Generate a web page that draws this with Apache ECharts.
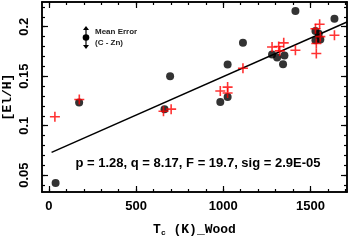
<!DOCTYPE html>
<html><head><meta charset="utf-8">
<script src="https://cdn.jsdelivr.net/npm/echarts@6/dist/echarts.min.js"></script>
<style>html,body{margin:0;padding:0;background:#fff}#c{width:350px;height:240px}</style>
</head><body><div id="c"></div>
<script>
// Data
const dotX = [38, 173, 663, 695, 983, 1025, 1025, 1113, 1280, 1309, 1351, 1343, 1414, 1529, 1548, 1529, 1557, 1638];
const dotY = [0.042, 0.1234, 0.1167, 0.150, 0.124, 0.129, 0.1618, 0.1837, 0.172, 0.169, 0.171, 0.162, 0.216, 0.1958, 0.193, 0.1864, 0.187, 0.208];
const crossX = [34, 174, 657, 701, 983, 1025, 1025, 1113, 1280, 1318, 1347, 1324, 1414, 1529, 1553, 1534, 1534, 1557, 1638];
const crossY = [0.109, 0.1265, 0.1146, 0.1167, 0.135, 0.139, 0.133, 0.158, 0.1796, 0.180, 0.1837, 0.1756, 0.1763, 0.198, 0.2025, 0.183, 0.173, 0.190, 0.1914];
const fitX = [15, 1710];
const fitY = [0.073, 0.2048];
const xTickLabels = [0, 500, 1000, 1500];
const yTickLabels = [0.05, 0.1, 0.15, 0.2];
const fitText = 'p = 1.28, q = 8.17, F = 19.7, sig = 2.9E-05';
const yTitle = '[El/H]';

const xMin = -40, xMax = 1710, yMin = 0.033, yMax = 0.225;
const xMinor = []; for (let v = 0; v <= 1700; v += 100) xMinor.push(v);
const yMinor = []; for (let i = 4; i <= 22; i++) yMinor.push(i / 100);

const lineCol = '#000';
function xAx(pos, major, lab) {
  return {
    type: 'value', position: pos, min: xMin, max: xMax,
    axisLine: { show: true, onZero: false, lineStyle: { color: lineCol, width: 1.5 } },
    axisTick: { show: true, inside: true, length: major ? 6 : 3, customValues: major ? xTickLabels : xMinor, lineStyle: { color: lineCol, width: 1.2 } },
    axisLabel: lab ? { show: true, customValues: xTickLabels, formatter: v => String(v), color: '#000', fontFamily: 'Liberation Sans, Arial', fontWeight: 'bold', fontSize: 13, margin: 8 } : { show: false },
    splitLine: { show: false },
    name: lab ? '{t|T}{s|c}{t| (K)_Wood}' : '',
    nameLocation: 'middle', nameGap: 31,
    nameTextStyle: { rich: {
      t: { fontFamily: 'Liberation Mono, Courier New', fontWeight: 'bold', fontSize: 13, color: '#000' },
      s: { fontFamily: 'Liberation Mono, Courier New', fontWeight: 'bold', fontSize: 8, color: '#000', padding: [6, 0, 0, 0] }
    } }
  };
}
function yAx(pos, major, lab) {
  return {
    type: 'value', position: pos, min: yMin, max: yMax,
    axisLine: { show: true, onZero: false, lineStyle: { color: lineCol, width: 1.5 } },
    axisTick: { show: true, inside: true, length: major ? 6 : 3, customValues: major ? yTickLabels : yMinor, lineStyle: { color: lineCol, width: 1.2 } },
    axisLabel: lab ? { show: true, customValues: yTickLabels, formatter: v => String(v), rotate: 90, color: '#000', fontFamily: 'Liberation Sans, Arial', fontWeight: 'bold', fontSize: 13, margin: 11 } : { show: false },
    splitLine: { show: false }
  };
}

const chart = echarts.init(document.getElementById('c'), null, { renderer: 'canvas' });
chart.setOption({
  animation: false,
  backgroundColor: '#fff',
  grid: { left: 42, right: 3, top: 2, bottom: 48, containLabel: false, outerBoundsMode: 'none' },
  xAxis: [xAx('bottom', true, true), xAx('bottom', false, false), xAx('top', true, false), xAx('top', false, false)],
  yAxis: [yAx('left', true, true), yAx('left', false, false), yAx('right', true, false), yAx('right', false, false)],
  series: [
    { type: 'line', data: fitX.map((x, i) => [x, fitY[i]]), showSymbol: false, symbol: 'none',
      lineStyle: { color: '#000', width: 1.5 }, z: 2 },
    { type: 'scatter', data: dotX.map((x, i) => [x, dotY[i]]), symbol: 'circle', symbolSize: 8,
      itemStyle: { color: '#000' }, z: 3 },
    { type: 'scatter', data: crossX.map((x, i) => [x, crossY[i]]),
      symbol: 'path://M4.2,0H5.8V4.2H10V5.8H5.8V10H4.2V5.8H0V4.2H4.2Z', symbolSize: 10,
      itemStyle: { color: '#ff0000' }, z: 4 }
  ],
  graphic: [
    { type: 'text', x: 8, y: 97, rotation: Math.PI / 2, style: { text: yTitle, fill: '#000', font: 'bold 13px "Liberation Mono", "Courier New"', textAlign: 'center', textVerticalAlign: 'middle' } },
    { type: 'text', x: 198, y: 163, style: { text: fitText, fill: '#000', font: 'bold 13px "Liberation Sans", Arial', textAlign: 'center', textVerticalAlign: 'middle' } },
    // legend icon: error bar with arrows and dot
    { type: 'line', shape: { x1: 86, y1: 29, x2: 86, y2: 46 }, style: { stroke: '#000', lineWidth: 1.2 } },
    { type: 'polygon', shape: { points: [[83, 30], [89, 30], [86, 26]] }, style: { fill: '#000' } },
    { type: 'polygon', shape: { points: [[83, 45], [89, 45], [86, 49]] }, style: { fill: '#000' } },
    { type: 'circle', shape: { cx: 86, cy: 37.5, r: 3.3 }, style: { fill: '#000' } },
    { type: 'text', x: 95, y: 32, style: { text: 'Mean Error', fill: '#222', font: 'bold 8px "Liberation Sans Narrow", "Liberation Sans", Arial', textVerticalAlign: 'middle' } },
    { type: 'text', x: 95, y: 43, style: { text: '(C - Zn)', fill: '#222', font: 'bold 8px "Liberation Sans Narrow", "Liberation Sans", Arial', textVerticalAlign: 'middle' } }
  ]
});
</script></body></html>
